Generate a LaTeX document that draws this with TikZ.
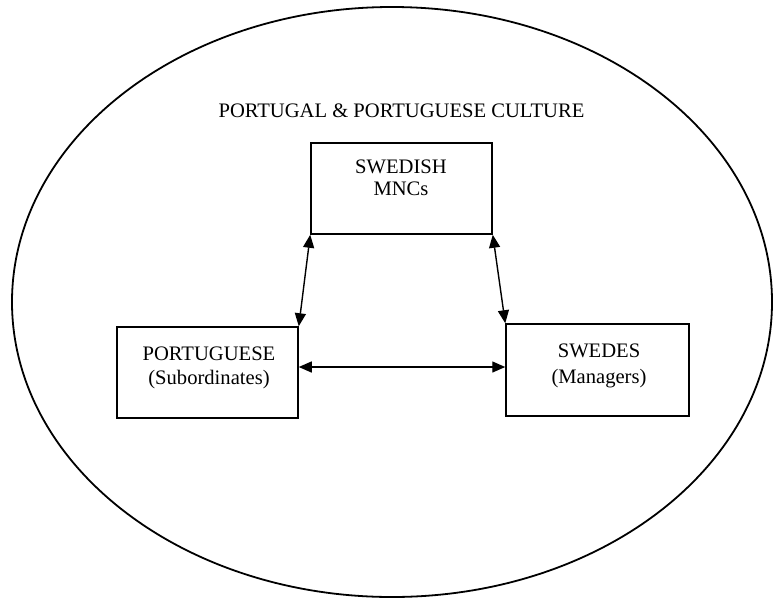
\documentclass[tikz,border=0pt]{standalone}
\usepackage{fontspec}
\setmainfont{Liberation Serif}
\usetikzlibrary{arrows.meta}
\begin{document}
\begin{tikzpicture}[x=1pt,y=-1pt,
  boxnode/.style={draw,line width=1.5pt,rectangle,inner sep=0pt},
  txt/.style={anchor=base,inner sep=0pt,font=\fontsize{20.6}{24}\selectfont},
  link/.style={line width=1.4pt,{Triangle[length=13pt,width=11pt]}-{Triangle[length=13pt,width=11pt]}}]
\useasboundingbox (0,0) rectangle (773,598);
\draw[line width=1.8pt] (392,302) ellipse [x radius=380, y radius=295];
\node[txt] (title) at (401.5,117.5) {PORTUGAL \& PORTUGUESE CULTURE};
\node[boxnode,minimum width=181pt,minimum height=91pt] (mnc) at (401.5,188.5) {};
\node[boxnode,minimum width=181pt,minimum height=91pt] (pt) at (207.5,372.5) {};
\node[boxnode,minimum width=183pt,minimum height=92pt] (sw) at (597.5,370) {};
\node[txt] (mnc1) at (401,173.5) {SWEDISH};
\node[txt] (mnc2) at (401,195) {MNCs};
\node[txt] (pt1) at (209,360) {PORTUGUESE};
\node[txt] (pt2) at (209,384) {(Subordinates)};
\node[txt] (sw1) at (599,357) {SWEDES};
\node[txt] (sw2) at (599,383) {(Managers)};
\coordinate (hy) at (0,367);
\draw[link] (mnc.south west) -- (pt.north east);
\draw[link] (mnc.south east) -- (sw.north west);
\draw[link] (pt.east |- hy) -- (sw.west |- hy);
\end{tikzpicture}
\end{document}
